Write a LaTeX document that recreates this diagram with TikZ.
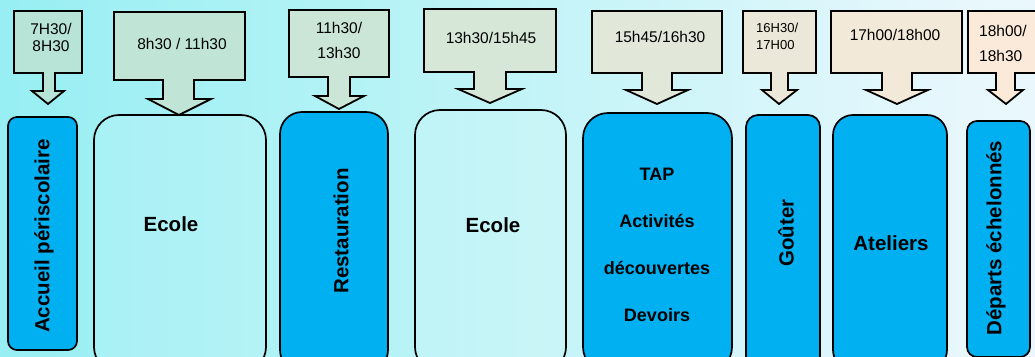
\documentclass[tikz,border=0pt]{standalone}
\usepackage{fontspec}
\setmainfont{Liberation Sans}
\definecolor{mint}{RGB}{180,228,214}
\definecolor{peach}{RGB}{253,234,218}
\definecolor{boxblue}{RGB}{0,176,240}
\pgfdeclarehorizontalshading{bgshade}{100bp}{rgb(0bp)=(0.50,0.92,0.94); rgb(20bp)=(0.56,0.93,0.95); rgb(40bp)=(0.69,0.95,0.96); rgb(72bp)=(0.91,0.97,0.99); rgb(100bp)=(0.97,0.99,1.0)}
\tikzset{
  calloutshape/.style={draw=black, line width=1.8pt, line join=miter},
  timelabel/.style={font=\fontsize{15.5}{18}\selectfont, align=center, inner sep=0pt},
  smalltime/.style={font=\fontsize{13}{15}\selectfont, align=left, inner sep=0pt},
  bluebox/.style={draw=black, line width=1.7pt, fill=boxblue},
  lightbox/.style={draw=black, line width=1.7pt, fill=white, fill opacity=0.1},
  boxlabel/.style={font=\bfseries\fontsize{20.5}{24}\selectfont, inner sep=0pt, text opacity=1},
  taplabel/.style={font=\bfseries\fontsize{18}{21}\selectfont, inner sep=0pt}
}
\begin{document}
\begin{tikzpicture}[x=1pt,y=-1pt]
\useasboundingbox (0,0) rectangle (1035,356);
\clip (0,0) rectangle (1035,356);
\shade[shading=bgshade] (0,0) rectangle (1035,356);
% callouts
\foreach \L/\T/\R/\B/\sl/\sr/\wl/\wr/\hb/\tx/\ty in {
  14/11/82/73/43/55/32/64/91/48/104,
  114/12/245/80/163/194/148/211/99/179/115,
  289/10/389/77/328/350/315/364/96/339/109,
  424/9/556/72/474/506/458/522/89/490/103,
  592/11/722/73/642/672/626/688/90/657/104,
  743/11/816/73/771/788/762/797/90/779/104,
  831/11/962/73/882/912/866/928/90/897/104,
  968/11/1045/73/996/1015/988/1023/90/1006/104}{
  \pgfmathtruncatemacro\pc{(\L+\R)/20.7}
  \draw[calloutshape, fill=peach!\pc!mint] (\L,\T) -- (\R,\T) -- (\R,\B) -- (\sr,\B) -- (\sr,\hb) -- (\wr,\hb) -- (\tx,\ty) -- (\wl,\hb) -- (\sl,\hb) -- (\sl,\B) -- (\L,\B) -- cycle;
}
\node[timelabel] (t1) at (51,37) {7H30/\\[-1pt]8H30};
\node[timelabel] (t2) at (182,44) {8h30 / 11h30};
\node[timelabel] (t3) at (339,40) {11h30/\\[7pt]13h30};
\node[timelabel] (t4) at (491,38) {13h30/15h45};
\node[timelabel] (t5) at (660,37) {15h45/16h30};
\node[smalltime, anchor=west] (t6) at (756,36) {16H30/\\[2pt]17H00};
\node[timelabel] (t7) at (895,35) {17h00/18h00};
\node[timelabel, align=left, anchor=west] (t8) at (979,43) {18h00/\\[7pt]18h30};
% boxes
\draw[bluebox, rounded corners=9pt] (8,117) rectangle (77,350);
\draw[lightbox, rounded corners=25pt] (94,115) rectangle (266,372);
\draw[bluebox, rounded corners=22pt] (280,112) rectangle (388,372);
\draw[lightbox, rounded corners=25pt] (415,110) rectangle (566,372);
\draw[bluebox, rounded corners=25pt] (583,113) rectangle (732,372);
\draw[bluebox, rounded corners=12pt] (746,115) rectangle (820,368);
\draw[bluebox, rounded corners=20pt] (833,115) rectangle (947,370);
\draw[bluebox, rounded corners=10pt] (967,121) rectangle (1030,357);
% labels
\node[boxlabel, rotate=90] (b1) at (44,236) {Accueil périscolaire};
\node[boxlabel] (b2) at (171,224) {Ecole};
\node[boxlabel, rotate=90] (b3) at (341,231) {Restauration};
\node[boxlabel] (b4) at (493,225) {Ecole};
\node[taplabel] (b5a) at (657,174) {TAP};
\node[taplabel] (b5b) at (657,221) {Activités};
\node[taplabel] (b5c) at (657,268) {découvertes};
\node[taplabel] (b5d) at (657,315) {Devoirs};
\node[boxlabel, rotate=90] (b6) at (786,233) {Goûter};
\node[boxlabel] (b7) at (891,243) {Ateliers};
\node[boxlabel, rotate=90] (b8) at (996,238) {Départs échelonnés};
\end{tikzpicture}
\end{document}
